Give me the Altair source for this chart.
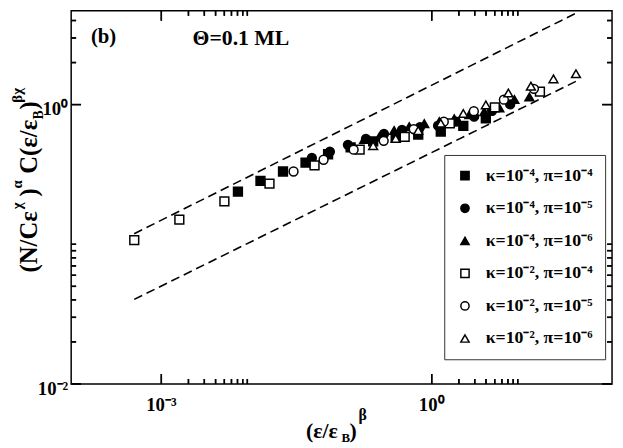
import altair as alt
import pandas as pd

# ---------------- data ----------------
series_names = [
    "κ=10⁻⁴, π=10⁻⁴",
    "κ=10⁻⁴, π=10⁻⁵",
    "κ=10⁻⁴, π=10⁻⁶",
    "κ=10⁻², π=10⁻⁴",
    "κ=10⁻², π=10⁻⁵",
    "κ=10⁻², π=10⁻⁶",
]
series_shapes = ["square", "circle", "triangle-up", "square", "circle", "triangle-up"]
series_fills = ["black", "black", "black", "white", "white", "white"]

a_x = [0.00708, 0.01259, 0.02239, 0.0398, 0.0708, 0.1259, 0.2239, 0.398, 0.708, 1.259, 2.239, 3.98]
a_y = [0.238, 0.284, 0.332, 0.384, 0.441, 0.494, 0.545, 0.581, 0.611, 0.641, 0.704, 0.796]

b_x = [0.0468, 0.0741, 0.1175, 0.1862, 0.2951, 0.4677, 0.7413, 1.175, 1.862, 2.951, 4.677, 7.413]
b_y = [0.415, 0.460, 0.515, 0.568, 0.616, 0.659, 0.690, 0.707, 0.755, 0.819, 0.903, 1.003]

c_x = [0.1778, 0.2612, 0.3828, 0.5623, 0.826, 1.211, 1.778, 2.612, 3.828, 5.623, 8.26, 12.11]
c_y = [0.563, 0.587, 0.652, 0.696, 0.731, 0.755, 0.792, 0.846, 0.888, 0.948, 1.088, 1.134]

d_x = [5.01e-4, 1.585e-3, 5.01e-3, 0.01585, 0.0501, 0.1585, 0.501, 1.585, 5.01, 15.85]
d_y = [0.107, 0.150, 0.203, 0.272, 0.367, 0.476, 0.587, 0.734, 0.955, 1.240]

e_x = [0.0293, 0.0631, 0.136, 0.293, 0.631, 1.36, 2.93, 6.31, 13.6]
e_y = [0.332, 0.403, 0.476, 0.550, 0.668, 0.755, 0.898, 1.085, 1.297]

f_x = [0.2239, 0.398, 0.708, 1.259, 2.239, 3.981, 7.079, 12.59, 22.39, 39.81]
f_y = [0.508, 0.572, 0.652, 0.736, 0.864, 0.995, 1.210, 1.356, 1.527, 1.662]

# dashed guide lines (end points)
upper_x = [5e-4, 40.0]
upper_y = [0.119, 4.52]
lower_x = [5e-4, 40.0]
lower_y = [0.0403, 1.47]

# axes
x_domain = [1e-4, 1e2]
y_domain = [1e-2, 4.69]
x_major = [1e-3, 1.0]
x_major_labels = ["10⁻³", "10⁰"]
x_minor = [2e-3, 3e-3, 4e-3, 5e-3, 6e-3, 7e-3, 8e-3, 9e-3, 2, 3, 4, 5, 6, 7, 8, 9]
y_major = [1e-2, 1.0]
y_major_labels = ["10⁻²", "10⁰"]
y_minor = [0.02, 0.03, 0.04, 0.05, 0.06, 0.07, 0.08, 0.09, 0.1, 2, 3, 4]

# ---------------- tables ----------------
rows = []
for name, xs, ys in zip(series_names, [a_x, b_x, c_x, d_x, e_x, f_x], [a_y, b_y, c_y, d_y, e_y, f_y]):
    for xv, yv in zip(xs, ys):
        rows.append({"x": xv, "y": yv, "series": name})
pts = pd.DataFrame(rows)
pts["idx"] = range(len(pts))

lines = pd.DataFrame(
    [{"x": xv, "y": yv, "line": "upper"} for xv, yv in zip(upper_x, upper_y)]
    + [{"x": xv, "y": yv, "line": "lower"} for xv, yv in zip(lower_x, lower_y)]
)

W, H = 548, 378
FONT = "Liberation Serif"
MAJOR, MINOR = 10, 5


def sx():
    return alt.Scale(type="log", domain=x_domain, nice=False)


def sy():
    return alt.Scale(type="log", domain=y_domain, nice=False)


# dashed lines
line_layer = alt.Chart(lines).mark_line(color="black", strokeDash=[9, 5], strokeWidth=1.6).encode(
    x=alt.X("x:Q", scale=sx(), axis=None),
    y=alt.Y("y:Q", scale=sy(), axis=None),
    detail="line:N",
)

# inward tick marks on all four sides, drawn as short path symbols placed by the scales
# (path "M0,0L0,-2" is scaled by sqrt(size)/2, so size = length**2)
tick_layers = []
for vals, length in [(x_major, MAJOR), (x_minor, MINOR)]:
    df = pd.DataFrame({"tx": vals})
    for ypos, path in [(H, "M0,0L0,-2"), (0, "M0,0L0,2")]:
        tick_layers.append(
            alt.Chart(df).mark_point(shape=path, size=length * length, filled=False, color="black",
                                     strokeWidth=1.5, opacity=1).encode(
                x=alt.X("tx:Q", scale=sx(), axis=None), y=alt.value(ypos))
        )
        tick_layers.append(
            alt.Chart(df).mark_rule(color="black", strokeWidth=1.5).encode(
                x=alt.X("tx:Q", scale=sx(), axis=None), y=alt.value(ypos),
                y2=alt.value(ypos - length if ypos == H else ypos + length))
        )
for vals, length in [(y_major, MAJOR), (y_minor, MINOR)]:
    df = pd.DataFrame({"ty": vals})
    for xpos, path in [(0, "M0,0L2,0"), (W, "M0,0L-2,0")]:
        tick_layers.append(
            alt.Chart(df).mark_point(shape=path, size=length * length, filled=False, color="black",
                                     strokeWidth=1.5, opacity=1).encode(
                y=alt.Y("ty:Q", scale=sy(), axis=None), x=alt.value(xpos))
        )
        tick_layers.append(
            alt.Chart(df).mark_rule(color="black", strokeWidth=1.5).encode(
                y=alt.Y("ty:Q", scale=sy(), axis=None), x=alt.value(xpos),
                x2=alt.value(xpos + length if xpos == 0 else xpos - length))
        )

legend = alt.Legend(
    orient="none", legendX=378, legendY=146, title=None,
    strokeColor="#333", fillColor="white", padding=12,
    symbolSize=70, symbolStrokeWidth=1.5,
    labelFont=FONT, labelFontWeight="bold", labelFontSize=18, labelColor="black",
    labelOffset=12, rowPadding=15, labelLimit=0,
)

point_layer = alt.Chart(pts).mark_point(filled=False, size=80, strokeWidth=1.5, opacity=1).encode(
    x=alt.X("x:Q", scale=sx(), axis=None),
    y=alt.Y("y:Q", scale=sy(), axis=None),
    shape=alt.Shape("series:N", scale=alt.Scale(domain=series_names, range=series_shapes), legend=legend),
    fill=alt.Fill("series:N", scale=alt.Scale(domain=series_names, range=series_fills), legend=legend),
    stroke=alt.Stroke("series:N", scale=alt.Scale(domain=series_names, range=["black"] * 6), legend=legend),
    order=alt.Order("idx:Q"),
)

# text pieces: (text, x, y, size, angle)
text_pieces = [
    ("(b)", 20, 33, 21, 0),
    ("Θ=0.1 ML", 123, 35, 22, 0),
    # x-axis title
    ("(ε/ε", 238, 433, 22, 0),
    ("B", 274, 437, 13, 0),
    (")", 282, 433, 22, 0),
    ("β", 291, 415, 16, 0),
    # y-axis title (rotated)
    ("(N/Cε", -35, 265, 25, 270),
    ("χ", -50, 201, 15, 270),
    (")", -35, 188, 25, 270),
    ("α", -50, 180, 15, 270),
    ("C(ε/ε", -35, 165, 25, 270),
    ("B", -29, 110, 14, 270),
    (")", -35, 100, 25, 270),
    ("βχ", -50, 93, 15, 270),
]

one = pd.DataFrame({"k": [0]})
text_layers = []
for t, px, py, fs, ang in text_pieces:
    text_layers.append(
        alt.Chart(one).mark_text(align="left", baseline="alphabetic", font=FONT, fontWeight="bold",
                                 fontSize=fs, angle=ang, color="black").encode(
            x=alt.value(px), y=alt.value(py), text=alt.value(t))
    )

# tick labels placed through the scales
xlab = pd.DataFrame({"tv": x_major, "lab": x_major_labels})
ylab = pd.DataFrame({"tv": y_major, "lab": y_major_labels})
xlab_layer = alt.Chart(xlab).mark_text(
    align="center", baseline="alphabetic", font=FONT, fontWeight="bold", fontSize=19, color="black"
).encode(x=alt.X("tv:Q", scale=sx(), axis=None), y=alt.value(H + 27), text="lab:N")
ylab_layer = alt.Chart(ylab).mark_text(
    align="right", baseline="alphabetic", font=FONT, fontWeight="bold", fontSize=19, color="black", dy=11
).encode(y=alt.Y("tv:Q", scale=sy(), axis=None), x=alt.value(-3), text="lab:N")

chart = alt.layer(line_layer, point_layer, *tick_layers, *text_layers, xlab_layer, ylab_layer).properties(
    width=W, height=H,
    autosize=alt.AutoSizeParams(type="none"),
    padding={"left": 64, "top": 0, "right": 3, "bottom": 62},
).configure_view(stroke="black", strokeWidth=1.5)

chart.save("out.html", embed_options={"renderer": "svg", "actions": False})
